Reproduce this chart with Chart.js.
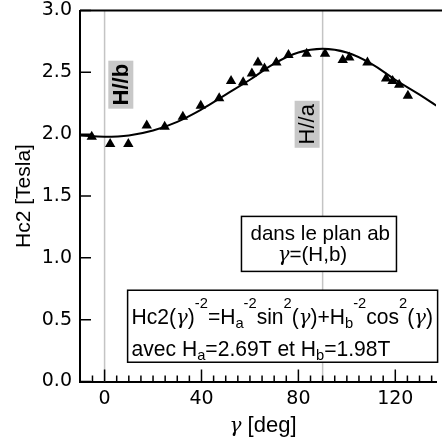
<!DOCTYPE html>
<html>
<head>
<meta charset="utf-8">
<script src="https://cdn.jsdelivr.net/npm/chart.js@4"></script>
<style>
  html, body { margin: 0; padding: 0; background: #fff; }
  #wrap { width: 442px; height: 443px; }
</style>
</head>
<body>
<div id="wrap"><canvas id="chart" width="442" height="443"></canvas></div>
<script>
// measured points, angle gamma in deg
const angles = [-5.3, 2.3, 9.8, 17.4, 24.8, 32.3, 39.7, 47.3, 52.2, 57.2, 60.8, 63.3,
  66.0, 70.9, 75.9, 83.4, 91.0, 98.3, 101.0, 108.5, 116.2, 118.9, 121.6, 125.2];
const hc2 = [1.98, 1.92, 1.92, 2.07, 2.06, 2.14, 2.23, 2.29, 2.43, 2.42, 2.49, 2.58,
  2.53, 2.58, 2.64, 2.65, 2.65, 2.60, 2.62, 2.58, 2.45, 2.43, 2.40, 2.31];

// fit curve
const fitAngles = [-10, 0, 10, 20, 30, 40, 50, 60, 70, 80, 90, 100, 110, 120, 130, 137];
const fitHc2 = [1.99, 1.98, 1.99, 2.03, 2.10, 2.20, 2.32, 2.44, 2.57, 2.66, 2.69,
  2.66, 2.57, 2.44, 2.32, 2.23];

const guideAngles = [0, 90];
const xTicks = [0, 40, 80, 120];
const yTicks = [0, 0.5, 1, 1.5, 2, 2.5, 3];

const SX = 0.98;
const GREEK = '"DejaVu Serif"';
const boxFonts = {
  n: { font: '21.5px "Liberation Sans"', dy: 0 },
  m: { font: '21px "Liberation Sans"', dy: 0 },
  g: { font: 'italic 20px ' + GREEK, dy: 0 },
  sup: { font: '15px "Liberation Sans"', dy: -16 },
  sub: { font: '15px "Liberation Sans"', dy: 4 }
};
const titleFonts = {
  n: { font: '22px "Liberation Sans"', dy: 0 },
  g: { font: 'italic 20px ' + GREEK, dy: 0 }
};

function richWidth(ctx, parts, fonts, sx) {
  let w = 0;
  parts.forEach(([t, k]) => {
    ctx.font = fonts[k].font;
    w += ctx.measureText(t).width * sx;
  });
  return w;
}

function drawRich(ctx, parts, x, y, fonts, sx) {
  let cx = x;
  parts.forEach(([t, k]) => {
    const f = fonts[k];
    ctx.save();
    ctx.font = f.font;
    ctx.translate(cx, y + f.dy);
    ctx.scale(sx, 1);
    ctx.textAlign = "left";
    ctx.textBaseline = "alphabetic";
    ctx.fillText(t, 0, 0);
    ctx.restore();
    ctx.font = f.font;
    cx += ctx.measureText(t).width * sx;
  });
}

function drawTag(ctx, text, cx, cy, w, h, bold) {
  ctx.fillStyle = "#c8c8c8";
  ctx.fillRect(cx - w / 2, cy - h / 2, w, h);
  ctx.save();
  ctx.translate(cx, cy);
  ctx.rotate(-Math.PI / 2);
  ctx.fillStyle = "#000";
  ctx.font = (bold ? "bold " : "") + '22px "Liberation Sans"';
  ctx.textAlign = "center";
  ctx.textBaseline = "middle";
  ctx.fillText(text, 0, 1);
  ctx.restore();
}

const frame = {
  id: "frame",
  afterDraw(chart) {
    const ctx = chart.ctx;
    const x = chart.scales.x, y = chart.scales.y;
    const a = chart.chartArea;
    ctx.save();
    ctx.strokeStyle = "#000";

    // top line
    ctx.lineWidth = 2;
    ctx.beginPath();
    ctx.moveTo(a.left, a.top);
    ctx.lineTo(chart.width, a.top);
    ctx.stroke();

    // inward ticks
    ctx.lineWidth = 1.5;
    ctx.beginPath();
    for (let v = -5; v <= 135; v += 5) {
      const px = x.getPixelForValue(v);
      const len = v % 40 === 0 ? 12 : 6;
      ctx.moveTo(px, a.bottom);
      ctx.lineTo(px, a.bottom - len);
    }
    yTicks.forEach(v => {
      const py = y.getPixelForValue(v);
      ctx.moveTo(a.left, py);
      ctx.lineTo(a.left + 11, py);
    });
    ctx.stroke();

    // H//b and H//a tags
    drawTag(ctx, "H//b", x.getPixelForValue(6.7), y.getPixelForValue(2.40), 25, 48, true);
    drawTag(ctx, "H//a", x.getPixelForValue(83.6), y.getPixelForValue(2.08), 25, 47, false);

    // box 1
    let bx = x.getPixelForValue(56.5), by = y.getPixelForValue(1.335);
    ctx.fillStyle = "#fff";
    ctx.fillRect(bx, by, 155, 55);
    ctx.lineWidth = 1.5;
    ctx.strokeRect(bx, by, 155, 55);
    ctx.fillStyle = "#000";
    drawRich(ctx, [["dans le plan ab", "m"]], bx + 9, by + 24, boxFonts, SX);
    const l2 = [["γ", "g"], ["=(H,b)", "m"]];
    drawRich(ctx, l2, bx + 71 - richWidth(ctx, l2, boxFonts, SX) / 2, by + 45, boxFonts, SX);

    // box 2
    bx = x.getPixelForValue(9.5);
    by = y.getPixelForValue(0.738);
    ctx.fillStyle = "#fff";
    ctx.fillRect(bx, by, 310, 72);
    ctx.strokeRect(bx, by, 310, 72);
    ctx.fillStyle = "#000";
    drawRich(ctx, [["Hc2(", "n"], ["γ", "g"], [")", "n"], ["-2", "sup"], ["=H", "n"], ["a", "sub"],
      ["-2", "sup"], ["sin", "n"], ["2", "sup"], ["(", "n"], ["γ", "g"], [")+H", "n"], ["b", "sub"],
      ["-2", "sup"], ["cos", "n"], ["2", "sup"], ["(", "n"], ["γ", "g"], [")", "n"]],
      bx + 4, by + 34, boxFonts, SX);
    drawRich(ctx, [["avec H", "n"], ["a", "sub"], ["=2.69T et H", "n"], ["b", "sub"], ["=1.98T", "n"]],
      bx + 4, by + 66, boxFonts, SX);

    // axis titles
    const xt = [["γ", "g"], [" [deg]", "n"]];
    drawRich(ctx, xt, 263 - richWidth(ctx, xt, titleFonts, 1) / 2, 432, titleFonts, 1);

    ctx.save();
    ctx.translate(30, (a.top + a.bottom) / 2);
    ctx.rotate(-Math.PI / 2);
    ctx.font = '21px "Liberation Sans"';
    ctx.textAlign = "center";
    ctx.textBaseline = "alphabetic";
    ctx.fillText("Hc2 [Tesla]", 0, 0);
    ctx.restore();

    ctx.restore();
  }
};

const points = angles.map((g, i) => ({ x: g, y: hc2[i] }));
const fit = fitAngles.map((g, i) => ({ x: g, y: fitHc2[i] }));
const guides = guideAngles.map(g => ({
  type: "line",
  data: [{ x: g, y: 0 }, { x: g, y: 3 }],
  borderColor: "#c4c4c4",
  borderWidth: 1.5,
  pointRadius: 0
}));

new Chart(document.getElementById("chart"), {
  type: "scatter",
  data: {
    datasets: [
      {
        data: points,
        pointStyle: "triangle",
        pointRadius: 6,
        backgroundColor: "#000",
        borderColor: "#000",
        borderWidth: 0
      },
      {
        type: "line",
        data: fit,
        borderColor: "#000",
        borderWidth: 2,
        pointRadius: 0,
        tension: 0.4,
        fill: false
      },
      ...guides
    ]
  },
  options: {
    responsive: false,
    devicePixelRatio: 1,
    animation: false,
    layout: { padding: { top: 10.5, right: 0, left: 0, bottom: 0 } },
    plugins: { legend: { display: false }, tooltip: { enabled: false } },
    scales: {
      x: {
        type: "linear",
        min: -10.15,
        max: 136.8,
        afterBuildTicks: s => { s.ticks = xTicks.map(v => ({ value: v })); },
        afterFit: s => { s.height = 61.5; s.paddingLeft = 0; s.paddingRight = 0; },
        grid: { display: false, drawTicks: false },
        border: { display: true, color: "#000", width: 2 },
        ticks: { color: "#000", font: { family: "DejaVu Sans", size: 19 }, padding: 6, maxRotation: 0 }
      },
      y: {
        type: "linear",
        min: 0,
        max: 3,
        afterBuildTicks: s => { s.ticks = yTicks.map(v => ({ value: v })); },
        afterFit: s => { s.width = 80; s.paddingTop = 0; s.paddingBottom = 0; },
        grid: { display: false, drawTicks: false },
        border: { display: true, color: "#000", width: 2 },
        ticks: {
          color: "#000",
          font: { family: "DejaVu Sans", size: 19 },
          padding: 8,
          callback: v => v.toFixed(1)
        }
      }
    }
  },
  plugins: [frame]
});
</script>
</body>
</html>
